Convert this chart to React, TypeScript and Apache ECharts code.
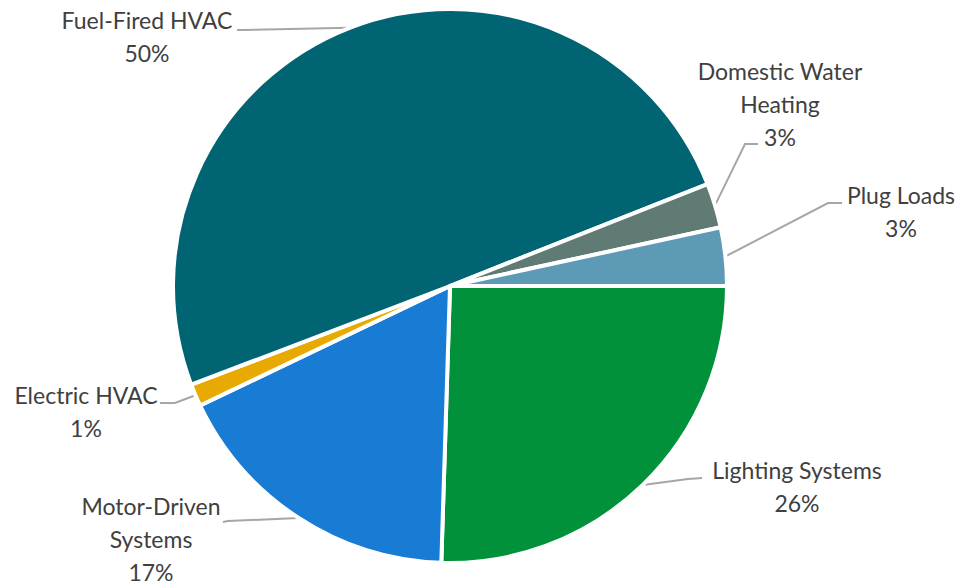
import { useEffect, useRef } from 'react';
import * as echarts from 'echarts';

const categories = [
  'Lighting Systems',
  'Motor-Driven Systems',
  'Electric HVAC',
  'Fuel-Fired HVAC',
  'Domestic Water Heating',
  'Plug Loads',
];
const values = [25.5, 17.4, 1.3, 49.8, 2.6, 3.4];
const colors = ['#00913A', '#187CD4', '#E8AA00', '#006473', '#5F7B73', '#5D9AB6'];
const labelTexts = [
  'Lighting Systems',
  'Motor-Driven\nSystems',
  'Electric HVAC',
  'Fuel-Fired HVAC',
  'Domestic Water\nHeating',
  'Plug Loads',
];

// label block centres and leader-line elbow / end points (layout only)
const labelSpec = [
  { x: 797, y: 486, elbow: [688, 479], end: [702, 478] },
  { x: 151, y: 539, elbow: [228, 521], end: [223, 522] },
  { x: 86, y: 411, elbow: [175, 403], end: [160, 403] },
  { x: 147, y: 36, elbow: [242, 30], end: [237, 30] },
  { x: 780, y: 104, elbow: [745, 144], end: [758, 144] },
  { x: 901, y: 211, elbow: [828, 203], end: [842, 203] },
];

export default function App() {
  const ref = useRef<HTMLDivElement>(null);
  useEffect(() => {
    if (!ref.current) return;
    const chart = echarts.init(ref.current, undefined, { renderer: 'svg' });
    chart.setOption({
      animation: false,
      backgroundColor: '#ffffff',
      series: [
        {
          type: 'pie',
          center: [450, 286],
          radius: 277,
          startAngle: 0,
          clockwise: true,
          avoidLabelOverlap: false,
          itemStyle: { borderColor: '#ffffff', borderWidth: 4 },
          label: {
            show: true,
            position: 'outside',
            fontFamily: 'Lato',
            fontSize: 23,
            lineHeight: 33,
            color: '#404040',
            align: 'center',
            formatter: (p: any) => `${labelTexts[p.dataIndex]}\n${Math.round(p.percent)}%`,
          },
          labelLine: {
            show: true,
            lineStyle: { color: '#A6A6A6', width: 2 },
          },
          labelLayout: (params: any) => {
            const s = labelSpec[params.dataIndex];
            const p0 = params.labelLinePoints && params.labelLinePoints[0];
            return {
              x: s.x,
              y: s.y,
              align: 'center',
              verticalAlign: 'middle',
              labelLinePoints: p0 ? [p0, s.elbow, s.end] : undefined,
            };
          },
          data: categories.map((name, i) => ({
            name,
            value: values[i],
            itemStyle: { color: colors[i] },
          })),
        },
      ],
    });
    return () => chart.dispose();
  }, []);
  return (
    <div
      ref={ref}
      style={{ position: 'absolute', left: 0, top: 0, width: 962, height: 585 }}
    />
  );
}
